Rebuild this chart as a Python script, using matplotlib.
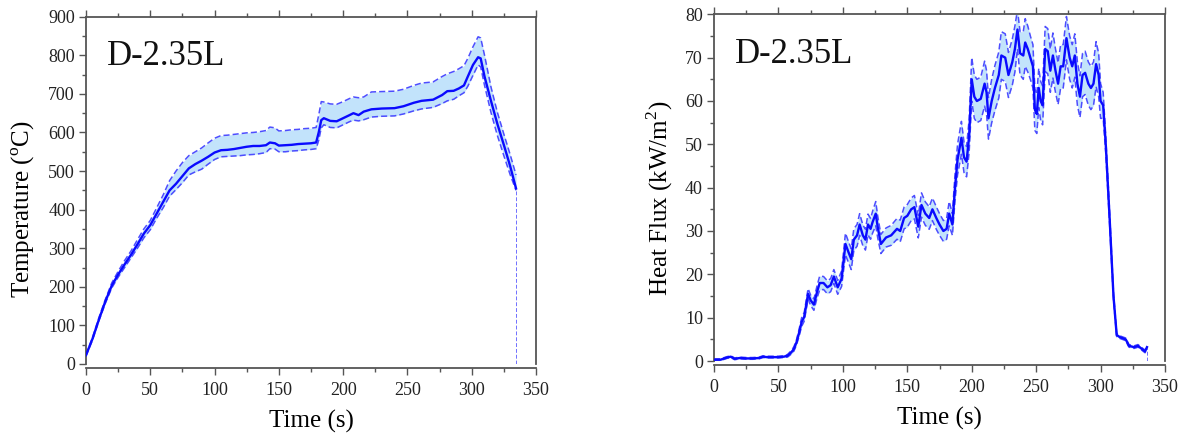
import matplotlib
matplotlib.use("Agg")
import matplotlib.pyplot as plt
from matplotlib.ticker import MultipleLocator

plt.rcParams['font.family'] = ['Liberation Serif', 'DejaVu Serif']
plt.rcParams['mathtext.fontset'] = 'custom'
plt.rcParams['mathtext.rm'] = 'Liberation Serif'

# ---- temperature (left panel) ----
temp_time = [0, 5, 10, 15, 20, 25, 30, 35, 40, 45,
             50, 55, 60, 65, 70, 75, 80, 85, 90, 95,
             100, 105, 110, 115, 120, 125, 130, 135, 140, 143,
             147, 150, 155, 160, 165, 170, 175, 179, 181, 183,
             185, 190, 195, 200, 205, 208, 212, 216, 222, 230,
             240, 247, 255, 261, 270, 277, 281, 286, 290, 294,
             297, 301, 305, 307, 310, 315, 320, 325, 330, 334.5]
temp_mean = [23, 65, 115, 162, 203, 232, 258, 283, 310, 338,
             360, 390, 420, 450, 467, 487, 507, 518, 527, 537,
             548, 554, 555, 557, 560, 563, 565, 565, 567, 574,
             572, 566, 567, 568, 570, 571, 572, 574, 600, 632,
             637, 630, 629, 637, 645, 650, 645, 654, 660, 662,
             663, 668, 677, 682, 685, 697, 707, 708, 714, 722,
             745, 775, 795, 792, 745, 682, 622, 568, 512, 455]
temp_upper = [25, 68, 120, 167, 210, 240, 268, 293, 322, 350,
              372, 405, 438, 475, 500, 522, 540, 550, 560, 573,
              585, 592, 593, 595, 597, 599, 600, 602, 605, 614,
              612, 604, 605, 607, 608, 610, 611, 613, 645, 680,
              679, 674, 673, 680, 688, 692, 690, 692, 705, 706,
              707, 712, 722, 728, 731, 745, 752, 758, 765, 773,
              792, 822, 848, 845, 800, 718, 652, 596, 542, 490]
temp_lower = [21, 62, 112, 157, 197, 225, 250, 275, 300, 327,
              348, 378, 405, 435, 452, 470, 490, 498, 505, 518,
              530, 537, 538, 539, 540, 542, 543, 545, 548, 558,
              557, 550, 550, 552, 553, 555, 556, 558, 580, 612,
              620, 613, 612, 620, 628, 632, 630, 633, 640, 642,
              643, 648, 656, 661, 665, 675, 682, 686, 695, 703,
              720, 748, 775, 770, 722, 652, 592, 540, 490, 450]

# ---- heat flux (right panel), mean and spread ----
hf_time = [0, 5, 10, 13, 16, 20, 25, 30, 35, 38,
           41, 45, 50, 54, 57, 60, 62, 64, 66, 68,
           70, 73, 75, 77.5, 80, 82, 85, 88, 90.5, 93,
           96, 99, 102, 104.5, 106.5, 108.5, 111, 113, 115.5, 117.5,
           119.5, 121.5, 123, 125.5, 127, 129.5, 133.5, 137.5, 142, 144.5,
           147.5, 150, 153, 155.5, 158.5, 161, 164, 167, 169.5, 172.5,
           175, 178, 180.5, 182.5, 185, 187, 189, 192, 194, 196,
           198, 200, 202, 204, 207, 210, 211.5, 213, 215.5, 218,
           221, 223, 226, 228.5, 231.5, 233.5, 235.5, 237.5, 240, 241.5,
           243.5, 245.5, 247.5, 249, 250.5, 252, 253.5, 255, 257, 259,
           261, 263, 265, 267, 269, 271, 273.5, 276, 278, 280,
           282, 284, 286, 288, 290.5, 292.5, 294.5, 296.5, 298.5, 300,
           302, 304, 307, 310, 312.5, 315, 319.5, 322, 326, 329,
           332, 334.5, 336]
hf_mean = [0.3, 0.3, 0.8, 1.0, 0.5, 0.7, 0.6, 0.6, 0.7, 1.0,
           0.9, 0.9, 0.9, 1.0, 1.2, 2.0, 2.8, 4.3, 6.5, 9.0,
           10.2, 15.5, 14.0, 13.0, 16.0, 18.0, 18.0, 17.0, 17.5, 19.5,
           17.0, 19.0, 27.0, 25.0, 23.5, 28.0, 29.0, 31.5, 29.0, 28.0,
           31.5, 30.5, 32.0, 34.0, 31.0, 27.0, 28.5, 29.0, 30.5, 30.0,
           33.0, 33.5, 35.0, 35.5, 31.0, 36.0, 34.0, 33.0, 35.0, 33.0,
           31.5, 30.0, 30.5, 34.0, 31.5, 40.0, 46.5, 51.5, 47.0, 46.0,
           52.0, 65.0, 61.0, 60.0, 60.5, 64.0, 62.0, 56.0, 60.0, 63.0,
           66.0, 70.5, 70.0, 66.0, 69.0, 72.0, 76.5, 71.0, 70.5, 73.5,
           72.0, 70.0, 68.0, 58.0, 57.0, 63.0, 60.0, 59.0, 72.0, 71.5,
           67.0, 70.5, 67.0, 64.0, 68.0, 68.0, 74.5, 70.0, 68.0, 70.5,
           64.0, 61.0, 66.0, 66.5, 64.0, 63.0, 64.0, 68.5, 66.0, 60.0,
           59.0, 50.0, 33.0, 15.0, 6.0, 5.5, 5.0, 3.5, 3.2, 3.5,
           2.8, 2.2, 3.2]
hf_sd = [0.2, 0.2, 0.2, 0.2, 0.2, 0.2, 0.2, 0.2, 0.2, 0.2,
         0.2, 0.2, 0.2, 0.2, 0.3, 0.4, 0.5, 0.6, 0.8, 1.0,
         1.0, 1.2, 1.2, 1.3, 1.4, 1.6, 1.5, 1.5, 1.5, 1.6,
         1.6, 1.8, 2.5, 2.4, 2.4, 2.5, 2.5, 2.5, 2.4, 2.4,
         2.4, 2.4, 2.5, 2.8, 2.5, 2.2, 2.2, 2.3, 2.4, 2.5,
         2.5, 2.6, 2.6, 2.7, 2.6, 2.8, 2.7, 2.6, 2.6, 2.6,
         2.5, 2.4, 2.4, 2.8, 2.5, 3.0, 3.5, 3.8, 3.5, 3.5,
         3.8, 5.0, 5.0, 5.0, 5.0, 5.2, 5.0, 4.8, 5.0, 5.2,
         5.3, 5.5, 5.5, 5.2, 5.3, 5.3, 4.5, 5.0, 5.5, 5.5,
         5.3, 5.0, 5.0, 4.8, 4.5, 4.5, 4.5, 4.5, 5.2, 5.2,
         5.0, 5.2, 5.0, 4.8, 5.0, 5.0, 5.0, 5.0, 5.0, 5.0,
         5.0, 4.8, 5.0, 5.0, 5.0, 5.0, 5.0, 5.2, 5.0, 4.0,
         3.0, 2.0, 1.5, 0.8, 0.4, 0.3, 0.3, 0.3, 0.3, 0.3,
         0.3, 0.3, 0.3]

hf_upper = [m + s for m, s in zip(hf_mean, hf_sd)]
hf_lower = [m - s for m, s in zip(hf_mean, hf_sd)]

LINE = '#0a0aff'
DASH = '#4d4dff'
FILL = '#c2e3fb'
SPINE = '#555555'


def draw_band(ax, t, mean, upper, lower):
    ax.fill_between(t, lower, upper, color=FILL, lw=0, zorder=1)
    ax.plot(t, upper, color=DASH, lw=1.1, ls=(0, (4, 2)), zorder=2)
    ax.plot(t, lower, color=DASH, lw=1.1, ls=(0, (4, 2)), zorder=2)
    ax.plot(t, mean, color=LINE, lw=1.7, zorder=3)
    # thin dashed drop to zero at the end of the record
    ax.vlines(t[-1], 0, lower[-1], color='#7070ff', lw=0.7,
              linestyles=(0, (4, 2)), zorder=2)


def style_axes(ax, ymax, ymajor, yminor, ylabel, label_xy):
    ax.set_xlim(0, 350)
    ax.set_ylim(0, ymax)
    ax.xaxis.set_major_locator(MultipleLocator(50))
    ax.xaxis.set_minor_locator(MultipleLocator(25))
    ax.yaxis.set_major_locator(MultipleLocator(ymajor))
    ax.yaxis.set_minor_locator(MultipleLocator(yminor))
    ax.tick_params(which='both', direction='out', top=True, right=False,
                   colors=SPINE, labelcolor='#222222', width=1.0)
    ax.tick_params(which='major', length=5, labelsize=13, pad=3)
    ax.tick_params(axis='x', which='major', pad=5)
    ax.tick_params(which='minor', length=2.8)
    for side in ax.spines.values():
        side.set_color(SPINE)
        side.set_linewidth(1.3)
    ax.spines['bottom'].set_position(('outward', 3))
    ax.set_xlabel('Time (s)', fontsize=18, labelpad=8)
    ax.set_ylabel(ylabel, fontsize=18)
    ax.yaxis.set_label_coords(*label_xy)
    ax.text(0.047, 0.86, 'D-2.35L', transform=ax.transAxes, fontsize=25,
            ha='left', va='baseline', color='#111111')


fig = plt.figure(figsize=(11.8, 4.34), dpi=100)
ax1 = fig.add_axes([0.0729, 0.1613, 0.3813, 0.8002])
ax2 = fig.add_axes([0.6051, 0.1682, 0.3822, 0.7988])

draw_band(ax1, temp_time, temp_mean, temp_upper, temp_lower)
style_axes(ax1, 900, 100, 50, r'Temperature ($^{\rm o}$C)', (-0.109, 0.445))

draw_band(ax2, hf_time, hf_mean, hf_upper, hf_lower)
style_axes(ax2, 80, 10, 5, r'Heat Flux (kW/m$^{\rm 2}$)', (-0.086, 0.47))

fig.savefig('out.png', dpi=100)
